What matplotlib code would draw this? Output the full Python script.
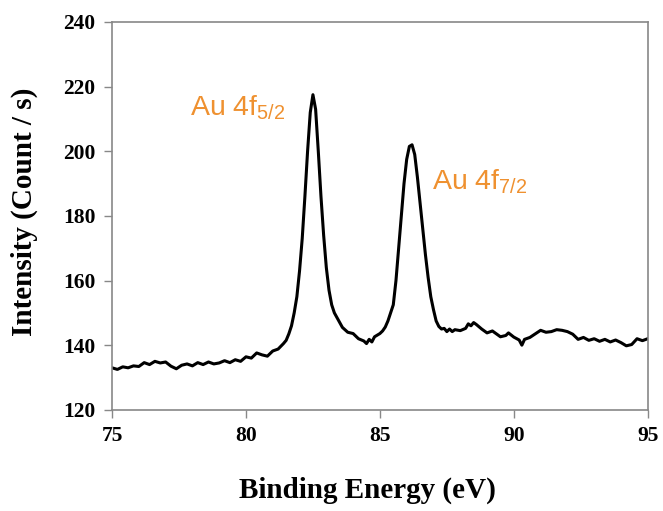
import matplotlib
matplotlib.use("Agg")
import matplotlib.pyplot as plt

plt.rcParams['mathtext.fontset'] = 'custom'
plt.rcParams['mathtext.rm'] = 'Liberation Sans'

# binding energy (eV) and intensity (count/s)
energy = [75.0, 75.2, 75.4, 75.6, 75.8, 76.0, 76.2, 76.4, 76.6, 76.8,
          77.0, 77.2, 77.4, 77.6, 77.8, 78.0, 78.2, 78.4, 78.6, 78.8,
          79.0, 79.2, 79.4, 79.6, 79.8, 80.0, 80.2, 80.4, 80.6, 80.8,
          81.0, 81.2, 81.4, 81.5, 81.6, 81.7, 81.8, 81.9, 82.0, 82.1,
          82.2, 82.3, 82.4, 82.5, 82.6, 82.7, 82.8, 82.9, 83.0, 83.1,
          83.2, 83.3, 83.4, 83.5, 83.6, 83.8, 84.0, 84.2, 84.4, 84.5,
          84.6, 84.7, 84.8, 85.0, 85.1, 85.2, 85.3, 85.4, 85.5, 85.6,
          85.7, 85.8, 85.9, 86.0, 86.1, 86.2, 86.3, 86.4, 86.5, 86.6,
          86.7, 86.8, 86.9, 87.0, 87.1, 87.2, 87.3, 87.4, 87.5, 87.6,
          87.7, 87.8, 88.0, 88.2, 88.3, 88.4, 88.5, 88.6, 88.8, 89.0,
          89.2, 89.4, 89.5, 89.7, 89.8, 90.0, 90.2, 90.3, 90.4, 90.6,
          90.8, 91.0, 91.2, 91.4, 91.6, 91.8, 92.0, 92.2, 92.4, 92.6,
          92.8, 93.0, 93.2, 93.4, 93.6, 93.8, 94.0, 94.2, 94.4, 94.6,
          94.8, 95.0]
intensity = [133.0, 132.5, 133.3, 133.0, 133.6, 133.4, 134.6, 134.0, 135.0, 134.5,
             134.8, 133.5, 132.7, 133.8, 134.2, 133.6, 134.6, 134.0, 134.8, 134.2,
             134.5, 135.2, 134.6, 135.5, 135.0, 136.4, 136.0, 137.6, 137.0, 136.6,
             138.2, 138.8, 140.5, 141.5, 143.5, 146.0, 150.0, 155.0, 163.0, 173.0,
             186.0, 200.0, 212.0, 217.5, 213.0, 200.0, 186.0, 174.0, 164.0, 157.0,
             152.5, 150.0, 148.5, 147.0, 145.5, 144.0, 143.6, 142.0, 141.3, 140.5,
             141.8, 141.0, 142.6, 143.6, 144.4, 145.6, 147.5, 150.0, 152.5, 160.0,
             170.0, 180.0, 190.0, 197.5, 201.5, 202.0, 199.0, 192.0, 184.0, 176.0,
             168.0, 161.0, 155.0, 151.0, 147.5, 145.8, 145.0, 145.2, 144.2, 145.0,
             144.2, 144.8, 144.5, 145.2, 146.6, 146.0, 147.0, 146.4, 145.0, 143.8,
             144.4, 143.2, 142.6, 143.0, 143.8, 142.5, 141.6, 140.0, 141.8, 142.4,
             143.5, 144.6, 144.0, 144.2, 144.8, 144.6, 144.2, 143.4, 141.8, 142.4,
             141.5, 142.0, 141.2, 141.8, 141.0, 141.6, 140.8, 139.8, 140.2, 142.0,
             141.4, 142.0]

x_ticks = [75, 80, 85, 90, 95]
y_ticks = [120, 140, 160, 180, 200, 220, 240]
peak_labels = [r'Au 4f$_\mathrm{5/2}$', r'Au 4f$_\mathrm{7/2}$']
label_pos = [(77.9, 213.5), (86.95, 190.5)]

fig = plt.figure(figsize=(6.63, 5.11), dpi=100)
ax = fig.add_axes([0.169, 0.198, 0.808, 0.759])

ax.plot(energy, intensity, color='black', lw=2.2)

for txt, (lx, ly) in zip(peak_labels, label_pos):
    ax.text(lx, ly, txt, color='#ef9130', fontsize=20.5,
            family='Liberation Sans', va='center', ha='left')

ax.set_xlim(75, 95)
ax.set_ylim(120, 240)
ax.set_xticks(x_ticks)
ax.set_yticks(y_ticks)

serif = {'family': 'Liberation Serif', 'weight': 'bold'}
for lab in ax.get_xticklabels() + ax.get_yticklabels():
    lab.set_fontfamily('Liberation Serif')
    lab.set_fontweight('bold')
    lab.set_fontsize(15.5)
ax.tick_params(direction='out', length=6, width=1, color='#888888', pad=6)

for sp in ax.spines.values():
    sp.set_color('#888888')
    sp.set_linewidth(1.2)

ax.set_xlabel('Binding Energy (eV)', fontdict=serif, fontsize=21, labelpad=22)
ax.set_ylabel('Intensity (Count / s)', fontdict=serif, fontsize=21, labelpad=18)
ax.xaxis.label.set_x(0.476)
ax.yaxis.label.set_y(0.51)

fig.savefig('out.png', dpi=100)
